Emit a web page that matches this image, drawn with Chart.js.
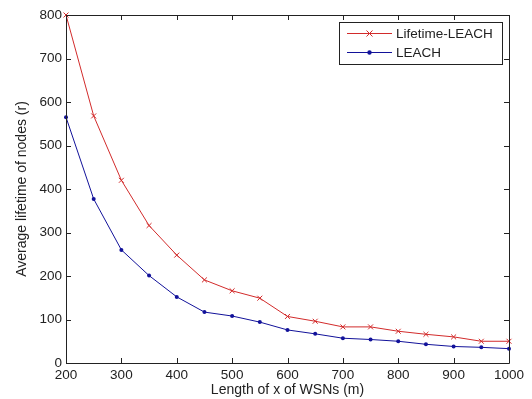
<!DOCTYPE html>
<html>
<head>
<meta charset="utf-8">
<script src="https://cdn.jsdelivr.net/npm/chart.js@4/dist/chart.umd.min.js"></script>
<style>
  html, body { margin: 0; padding: 0; background: #fff; }
  #wrap { width: 532px; height: 399px; }
</style>
</head>
<body>
<div id="wrap"><canvas id="lifeChart" width="532" height="399"></canvas></div>
<script>
// x positions (m)
const lengths = [200, 250, 300, 350, 400, 450, 500, 550, 600, 650, 700, 750, 800, 850, 900, 950, 1000];
// average lifetime
const lifetimeLeach = [800, 568, 420, 316, 248, 191, 166, 149, 107, 96, 83, 83, 73, 66, 60, 50, 50];
const leach = [565, 377, 260, 201, 152, 117, 108, 94, 76, 67, 57, 54, 50, 43, 38, 36, 33];
const seriesNames = ['Lifetime-LEACH', 'LEACH'];
const xTicks = [200, 300, 400, 500, 600, 700, 800, 900, 1000];
const yTicks = [0, 100, 200, 300, 400, 500, 600, 700, 800];

const RED = '#d22b2b';
const BLUE = '#12129a';
const FONT = 'Liberation Sans, Arial, sans-serif';

// box around the axes, inward ticks and the legend (matlab style)
const matlabAxes = {
    id: 'matlabAxes',
    afterDatasetsDraw(chart) {
        const ctx = chart.ctx;
        const a = chart.chartArea;
        const xs = chart.scales.x, ys = chart.scales.y;
        ctx.save();
        ctx.strokeStyle = '#222';
        ctx.lineWidth = 1;
        ctx.beginPath();
        ctx.rect(Math.round(a.left) + 0.5, Math.round(a.top) + 0.5, Math.round(a.right - a.left), Math.round(a.bottom - a.top));
        ctx.stroke();
        const tl = 5;
        ctx.beginPath();
        xTicks.forEach(v => {
            const px = Math.round(xs.getPixelForValue(v)) + 0.5;
            ctx.moveTo(px, a.bottom); ctx.lineTo(px, a.bottom - tl);
            ctx.moveTo(px, a.top); ctx.lineTo(px, a.top + tl);
        });
        yTicks.forEach(v => {
            const py = Math.round(ys.getPixelForValue(v)) + 0.5;
            ctx.moveTo(a.left, py); ctx.lineTo(a.left + tl, py);
            ctx.moveTo(a.right, py); ctx.lineTo(a.right - tl, py);
        });
        ctx.stroke();

        // legend
        const lx = 339.5, ly = 22.5, lw = 163, lh = 42;
        ctx.fillStyle = '#fff';
        ctx.fillRect(lx, ly, lw, lh);
        ctx.strokeStyle = '#222';
        ctx.strokeRect(lx, ly, lw, lh);
        const rows = [
            { name: seriesNames[0], color: RED, y: 33, mark: 'x' },
            { name: seriesNames[1], color: BLUE, y: 52, mark: 'dot' }
        ];
        ctx.font = '13.5px ' + FONT;
        ctx.textBaseline = 'middle';
        ctx.textAlign = 'left';
        rows.forEach(r => {
            ctx.strokeStyle = r.color;
            ctx.beginPath();
            ctx.moveTo(347, r.y + 0.5); ctx.lineTo(392, r.y + 0.5);
            ctx.stroke();
            const mx = 369.5, my = r.y + 0.5;
            if (r.mark === 'x') {
                ctx.beginPath();
                ctx.moveTo(mx - 3, my - 3); ctx.lineTo(mx + 3, my + 3);
                ctx.moveTo(mx - 3, my + 3); ctx.lineTo(mx + 3, my - 3);
                ctx.stroke();
            } else {
                ctx.fillStyle = r.color;
                ctx.beginPath();
                ctx.arc(mx, my, 2.2, 0, Math.PI * 2);
                ctx.fill();
            }
            ctx.fillStyle = '#222';
            ctx.fillText(r.name, 396, r.y + 1);
        });
        ctx.restore();
    }
};

new Chart(document.getElementById('lifeChart'), {
    type: 'line',
    data: {
        labels: lengths,
        datasets: [{
            label: seriesNames[0],
            data: lengths.map((x, i) => ({ x: x, y: lifetimeLeach[i] })),
            borderColor: RED,
            backgroundColor: RED,
            borderWidth: 1,
            pointStyle: 'crossRot',
            pointRadius: 3.5,
            pointBorderWidth: 1,
            tension: 0
        }, {
            label: seriesNames[1],
            data: lengths.map((x, i) => ({ x: x, y: leach[i] })),
            borderColor: BLUE,
            backgroundColor: BLUE,
            borderWidth: 1,
            pointStyle: 'circle',
            pointRadius: 2,
            pointBorderWidth: 0,
            tension: 0
        }]
    },
    options: {
        responsive: false,
        animation: false,
        clip: false,
        layout: { padding: { top: 15, right: 23, left: 0, bottom: 0 } },
        plugins: {
            legend: { display: false },
            tooltip: { enabled: false }
        },
        scales: {
            x: {
                type: 'linear',
                min: 200,
                max: 1000,
                afterBuildTicks: s => { s.ticks = xTicks.map(v => ({ value: v })); },
                afterFit: s => { s.height = 36; },
                grid: { display: false, drawTicks: false },
                border: { display: false },
                ticks: { color: '#222', font: { family: FONT, size: 13.5 }, padding: 4, maxRotation: 0, callback: v => String(v) },
                title: { display: true, text: 'Length of x of WSNs (m)', color: '#222', font: { family: FONT, size: 14 }, padding: { top: 0, bottom: 0 } }
            },
            y: {
                min: 0,
                max: 800,
                afterBuildTicks: s => { s.ticks = yTicks.map(v => ({ value: v })); },
                afterFit: s => { s.width = 66; },
                grid: { display: false, drawTicks: false },
                border: { display: false },
                ticks: { color: '#222', font: { family: FONT, size: 13.5 }, padding: 4, callback: v => String(v) },
                title: { display: true, text: 'Average lifetime of nodes (r)', color: '#222', font: { family: FONT, size: 14 }, padding: { top: 14, bottom: 0 } }
            }
        }
    },
    plugins: [matlabAxes]
});
</script>
</body>
</html>
